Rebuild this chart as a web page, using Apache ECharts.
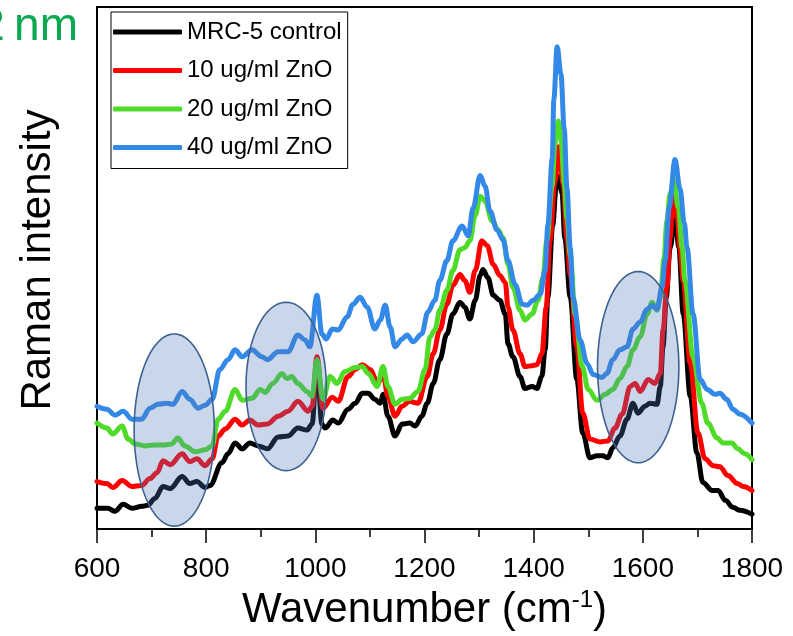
<!DOCTYPE html>
<html>
<head>
<meta charset="utf-8">
<script src="https://cdn.jsdelivr.net/npm/echarts@6/dist/echarts.min.js"></script>
<style>
html,body{margin:0;padding:0;background:#fff;}
#chart{width:793px;height:636px;}
</style>
</head>
<body>
<div id="chart"></div>
<script>
// ---- data (wavenumber cm-1, Raman intensity in arbitrary units) ----
const seriesNames = ['MRC-5 control', '10 ug/ml ZnO', '20 ug/ml ZnO', '40 ug/ml ZnO'];
const xTicks = [600, 800, 1000, 1200, 1400, 1600, 1800];

const controlSpectrum = [[600,21],[620,21],[633,18],[648,25],[664,21],[682,23],[693,24],[706,31],[721,43],[734,41],[756,53],[770,46],[783,48],[798,42],[807,44],[829,67],[840,76],[853,87],[866,81],[880,87],[895,84],[912,81],[932,93],[950,94],[968,102],[985,100],[994,106],[1003,166],[1012,106],[1018,102],[1032,110],[1042,107],[1060,121],[1073,127],[1086,137],[1097,137],[1109,131],[1119,127],[1124,136],[1133,114],[1146,94],[1159,106],[1173,107],[1183,104],[1195,114],[1205,127],[1216,147],[1228,171],[1241,197],[1252,217],[1265,229],[1274,224],[1283,212],[1293,231],[1302,256],[1307,262],[1316,254],[1326,236],[1338,231],[1348,217],[1353,187],[1362,174],[1375,154],[1384,142],[1397,144],[1406,142],[1415,154],[1421,181],[1426,234],[1435,307],[1441,344],[1446,356],[1452,339],[1457,294],[1467,234],[1479,151],[1490,97],[1503,72],[1516,74],[1527,74],[1536,72],[1545,82],[1558,94],[1571,111],[1582,127],[1591,117],[1604,124],[1613,127],[1626,126],[1632,144],[1637,184],[1643,234],[1650,284],[1659,316],[1666,284],[1674,217],[1687,134],[1699,77],[1710,47],[1727,39],[1738,39],[1751,29],[1765,22],[1778,19],[1800,15]];

const zno10Spectrum = [[600,48],[618,46],[629,42],[646,49],[664,43],[682,44],[697,51],[710,57],[721,69],[734,65],[756,76],[770,68],[783,71],[798,64],[811,71],[822,94],[835,101],[853,111],[866,105],[880,110],[895,105],[912,106],[932,114],[950,119],[968,129],[987,119],[994,124],[1003,174],[1014,122],[1031,133],[1042,129],[1060,154],[1073,161],[1086,166],[1100,161],[1115,147],[1124,157],[1133,134],[1146,114],[1159,124],[1173,129],[1188,127],[1205,154],[1216,177],[1228,201],[1241,227],[1252,246],[1265,257],[1274,251],[1283,239],[1293,261],[1305,291],[1315,286],[1326,267],[1338,256],[1348,249],[1353,224],[1362,201],[1375,177],[1384,164],[1397,165],[1406,166],[1415,177],[1423,224],[1430,291],[1439,351],[1446,386],[1454,349],[1461,294],[1467,257],[1479,184],[1490,117],[1503,91],[1522,88],[1536,89],[1549,102],[1562,116],[1577,144],[1586,147],[1595,139],[1610,151],[1622,147],[1632,157],[1637,201],[1644,244],[1650,294],[1655,337],[1663,314],[1668,284],[1674,251],[1687,167],[1701,97],[1714,71],[1729,64],[1741,63],[1756,54],[1773,46],[1784,43],[1800,39]];

const zno20Spectrum = [[600,107],[618,102],[629,96],[646,104],[657,91],[670,86],[688,84],[706,85],[725,85],[737,86],[748,92],[761,84],[780,78],[798,80],[811,84],[822,111],[835,119],[853,141],[866,130],[884,132],[899,141],[908,138],[922,147],[939,157],[948,152],[957,154],[968,147],[985,139],[994,134],[1003,171],[1014,131],[1027,154],[1040,147],[1054,159],[1073,163],[1086,164],[1097,157],[1113,144],[1124,164],[1133,144],[1146,126],[1159,131],[1173,132],[1188,139],[1201,161],[1210,194],[1219,201],[1228,221],[1241,241],[1252,261],[1265,282],[1274,284],[1283,291],[1293,317],[1302,336],[1311,331],[1324,311],[1335,302],[1344,294],[1353,267],[1362,244],[1375,221],[1384,211],[1397,217],[1408,231],[1417,254],[1424,291],[1434,347],[1439,389],[1445,412],[1450,394],[1456,349],[1461,314],[1467,277],[1476,217],[1489,164],[1500,141],[1516,130],[1531,136],[1545,141],[1558,152],[1571,164],[1582,181],[1595,194],[1608,217],[1617,229],[1626,221],[1632,234],[1639,274],[1644,311],[1650,339],[1657,352],[1665,324],[1672,284],[1677,251],[1692,174],[1708,127],[1719,107],[1736,92],[1747,87],[1763,87],[1774,81],[1787,76],[1800,70]];

const zno40Spectrum = [[600,124],[618,121],[633,115],[648,119],[664,111],[682,111],[697,122],[712,126],[728,127],[739,126],[756,139],[770,131],[785,122],[798,125],[811,131],[825,161],[840,171],[853,181],[866,174],[884,181],[902,174],[912,171],[932,179],[950,179],[968,196],[981,191],[990,184],[1003,236],[1012,197],[1020,192],[1031,202],[1042,201],[1058,214],[1069,227],[1082,234],[1095,224],[1109,202],[1119,211],[1128,226],[1137,204],[1146,184],[1159,192],[1168,196],[1179,189],[1195,197],[1206,219],[1219,231],[1228,251],[1241,271],[1252,291],[1269,306],[1280,296],[1289,324],[1302,357],[1311,346],[1320,321],[1333,302],[1344,292],[1353,271],[1366,247],[1379,227],[1388,226],[1399,231],[1412,237],[1421,261],[1426,307],[1434,374],[1437,434],[1443,487],[1450,459],[1456,404],[1461,344],[1467,284],[1472,234],[1485,191],[1498,167],[1509,156],[1525,153],[1534,157],[1545,171],[1558,181],[1571,184],[1582,202],[1595,209],[1608,222],[1617,226],[1626,222],[1635,244],[1641,271],[1648,324],[1659,373],[1668,344],[1676,309],[1681,284],[1692,217],[1705,151],[1718,141],[1732,136],[1741,137],[1754,131],[1765,121],[1778,116],[1800,107]];

// highlighted spectral regions: [wnStart, wnEnd, intensityLow, intensityHigh]
const highlightRegions = [[668,815,3,197],[873,1020,59,229],[1517,1666,67,260]];

// ---- styling ----
const colors = ['#000000', '#ff0000', '#4fdc28', '#3389e8'];
const FONT = "'Liberation Sans', Arial, sans-serif";
const spectra = [controlSpectrum, zno10Spectrum, zno20Spectrum, zno40Spectrum];

function renderEllipse(params, api) {
  const p0 = api.coord([api.value(0), api.value(2)]);
  const p1 = api.coord([api.value(1), api.value(3)]);
  const cx = (p0[0] + p1[0]) / 2, cy = (p0[1] + p1[1]) / 2;
  const rx = Math.abs(p1[0] - p0[0]) / 2, ry = Math.abs(p1[1] - p0[1]) / 2;
  const pts = [];
  const n = 120;
  for (let i = 0; i < n; i++) {
    const t = i / n * Math.PI * 2;
    pts.push([cx + rx * Math.cos(t), cy + ry * Math.sin(t)]);
  }
  return {
    type: 'polygon',
    shape: { points: pts },
    style: { fill: 'rgba(80,122,186,0.3)', stroke: '#3e6290', lineWidth: 1.6 }
  };
}

const chart = echarts.init(document.getElementById('chart'), null, { renderer: 'canvas' });
const series = spectra.map((d, i) => ({
  name: seriesNames[i],
  type: 'line',
  data: d,
  showSymbol: false,
  symbol: 'none',
  smooth: 0.35,
  smoothMonotone: 'x',
  z: 2 + i * 0.01,
  lineStyle: { width: 5, color: colors[i], cap: 'round', join: 'round' },
  itemStyle: { color: colors[i] },
  animation: false
}));
series.push({
  type: 'custom',
  name: 'regions',
  data: highlightRegions,
  encode: { x: [0, 1], y: [2, 3] },
  renderItem: renderEllipse,
  z: 3,
  silent: true,
  animation: false
});

chart.setOption({
  animation: false,
  backgroundColor: '#ffffff',
  grid: {
    left: 97, right: 41, top: 7, bottom: 102,
    show: true, borderColor: '#000', borderWidth: 2, backgroundColor: 'transparent'
  },
  legend: {
    data: seriesNames.map((n, i) => ({ name: n, icon: 'roundRect' })),
    left: 111, top: 12,
    orient: 'vertical',
    selectedMode: false,
    itemWidth: 69, itemHeight: 5, itemGap: 14.5,
    padding: [8, 6, 9, 2],
    borderColor: '#000', borderWidth: 1,
    backgroundColor: '#fff',
    textStyle: { fontFamily: FONT, fontSize: 24, color: '#000', lineHeight: 24 }
  },
  xAxis: {
    type: 'value',
    min: 600, max: 1800, interval: 200,
    name: '{a|Wavenumber (cm}{b|-1}{a|)}',
    nameLocation: 'middle',
    nameGap: 58,
    nameTextStyle: {
      rich: {
        a: { fontFamily: FONT, fontSize: 42, color: '#000', lineHeight: 44 },
        b: { fontFamily: FONT, fontSize: 24, color: '#000', verticalAlign: 'top', lineHeight: 44 }
      }
    },
    axisLine: { show: true, lineStyle: { color: '#000', width: 2 } },
    axisTick: { show: true, inside: false, length: 14, lineStyle: { color: '#000', width: 1.5 } },
    minorTick: { show: true, splitNumber: 2, length: 8, lineStyle: { color: '#000', width: 1.5 } },
    axisLabel: {
      margin: 26, fontFamily: FONT, fontSize: 28, color: '#000',
      formatter: v => xTicks.includes(v) ? String(v) : ''
    },
    splitLine: { show: false },
    minorSplitLine: { show: false }
  },
  yAxis: {
    type: 'value',
    min: 0, max: 527,
    axisLine: { show: false },
    axisTick: { show: false },
    axisLabel: { show: false },
    splitLine: { show: false }
  },
  graphic: [
    {
      type: 'text',
      x: 38, y: 260,
      rotation: Math.PI / 2,
      style: { text: 'Raman intensity', fontFamily: FONT, fontSize: 42, fill: '#000', align: 'center', verticalAlign: 'middle' }
    },
    {
      type: 'text',
      x: 78, y: 27,
      style: { text: '2\u2009nm', fontFamily: FONT, fontSize: 46, fill: '#0aa84f', align: 'right', verticalAlign: 'middle' }
    }
  ],
  series: series
});
</script>
</body>
</html>
